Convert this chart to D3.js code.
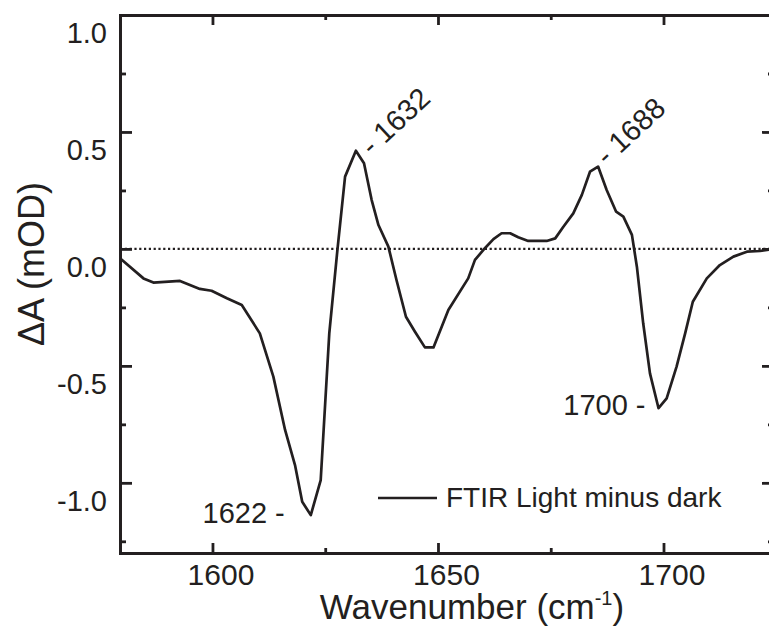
<!DOCTYPE html>
<html lang="en">

<head>
  <script src="https://cdn.jsdelivr.net/npm/d3@7/dist/d3.min.js"></script>

  <style>
    body {
      margin: 0;
      background: #fff;
      font-family: 'Liberation Sans', Arial, sans-serif;
    }

    #chart text {
      fill: #231f20;
    }

    .axis path,
    .axis line {
      stroke: #231f20;
      stroke-width: 2.8;
    }
  </style>
</head>

<body>
  <svg id="chart" width="769" height="626"></svg>

  <script>
    // traced spectrum
    var wavenumber = [1579.5, 1584.7, 1586.9, 1592.8, 1597.2, 1599.8, 1603.2, 1606.5, 1610.5, 1613.5,
      1616.1, 1618.3, 1619.9, 1621.8, 1624.0, 1625.9, 1627.7, 1629.4, 1631.8, 1633.6,
      1635.3, 1636.8, 1639.0, 1640.8, 1642.9, 1644.9, 1647.1, 1649.0, 1652.3, 1656.7,
      1658.2, 1660.4, 1662.3, 1664.1, 1666.0, 1667.8, 1670.0, 1674.1, 1676.0, 1677.8,
      1680.0, 1681.9, 1683.7, 1685.5, 1687.4, 1689.5, 1691.1, 1693.0, 1694.1, 1695.5,
      1697.0, 1698.9, 1700.7, 1702.9, 1704.8, 1706.5, 1709.6, 1712.5, 1715.5, 1718.5,
      1721.4, 1724.5];
    var deltaA = [-0.040, -0.126, -0.144, -0.137, -0.171, -0.179, -0.211, -0.240, -0.361, -0.546,
      -0.774, -0.924, -1.081, -1.138, -0.988, -0.361, -0.005, 0.309, 0.420, 0.366,
      0.209, 0.102, 0.010, -0.133, -0.290, -0.354, -0.421, -0.421, -0.261, -0.126,
      -0.047, 0.003, 0.042, 0.067, 0.067, 0.050, 0.034, 0.034, 0.045, 0.095,
      0.152, 0.231, 0.330, 0.352, 0.252, 0.159, 0.138, 0.060, -0.076, -0.318,
      -0.532, -0.681, -0.639, -0.503, -0.361, -0.226, -0.126, -0.069, -0.033, -0.012,
      -0.009, 0.000];

    var xMajor = [1600, 1650, 1700];
    var xMinor = [1625, 1675, 1725];
    var yMajor = [1.0, 0.5, 0.0, -0.5, -1.0];
    var yMinor = [0.75, 0.25, -0.25, -0.75, -1.25];

    // peak annotations (index into the spectrum)
    var peakText = ['1622 -', '- 1632', '- 1688', '1700 -'];
    var peakIndex = [13, 18, 43, 51];

    var legendText = 'FTIR Light minus dark';

    var data = wavenumber.map(function (w, i) { return { w: w, a: deltaA[i] }; });

    var box = { left: 120, right: 774, top: 15, bottom: 553 };

    var x = d3.scaleLinear().domain([1579.5, 1724.5]).range([box.left, box.right]);
    var y = d3.scaleLinear().domain([-1.3, 1.0]).range([box.bottom, box.top]);

    var svg = d3.select('#chart');

    // axes: major + minor on all four sides, ticks inward
    function drawAxis(axis, cls, tr) {
      return svg.append('g')
        .attr('class', 'axis ' + cls)
        .attr('transform', tr)
        .call(axis);
    }

    var xb = drawAxis(d3.axisBottom(x).tickValues(xMajor).tickSizeInner(-10).tickSizeOuter(0)
      .tickFormat(d3.format('d')), 'x', 'translate(0,' + box.bottom + ')');
    xb.selectAll('text')
      .attr('x', 8)
      .attr('y', 32)
      .attr('dy', 0)
      .style('font-size', '30px')
      .style('font-family', "'Liberation Sans', Arial, sans-serif");
    drawAxis(d3.axisBottom(x).tickValues(xMinor).tickSizeInner(-5).tickSizeOuter(0).tickFormat(''),
      'x minor', 'translate(0,' + box.bottom + ')');

    drawAxis(d3.axisTop(x).tickValues(xMajor).tickSizeInner(-10).tickSizeOuter(0).tickFormat(''),
      'x top', 'translate(0,' + box.top + ')');
    drawAxis(d3.axisTop(x).tickValues(xMinor).tickSizeInner(-5).tickSizeOuter(0).tickFormat(''),
      'x top minor', 'translate(0,' + box.top + ')');

    var yl = drawAxis(d3.axisLeft(y).tickValues(yMajor).tickSizeInner(-12).tickSizeOuter(0)
      .tickPadding(13).tickFormat(function (d) { return d.toFixed(1); }), 'y', 'translate(' + box.left + ',0)');
    yl.selectAll('text')
      .attr('y', 18)
      .style('font-size', '29px')
      .style('font-family', "'Liberation Sans', Arial, sans-serif");
    drawAxis(d3.axisLeft(y).tickValues(yMinor).tickSizeInner(-6).tickSizeOuter(0).tickFormat(''),
      'y minor', 'translate(' + box.left + ',0)');

    drawAxis(d3.axisRight(y).tickValues(yMajor).tickSizeInner(-12).tickSizeOuter(0).tickFormat(''),
      'y right', 'translate(' + box.right + ',0)');
    drawAxis(d3.axisRight(y).tickValues(yMinor).tickSizeInner(-6).tickSizeOuter(0).tickFormat(''),
      'y right minor', 'translate(' + box.right + ',0)');

    svg.selectAll('.axis path').attr('stroke-linecap', 'square');

    // zero line
    svg.append('line')
      .attr('x1', box.left).attr('x2', box.right)
      .attr('y1', y(0)).attr('y2', y(0))
      .attr('stroke', '#231f20')
      .attr('stroke-width', 2.2)
      .attr('stroke-dasharray', '2.2,2.6');

    // spectrum
    var line = d3.line()
      .x(function (d) { return x(d.w); })
      .y(function (d) { return y(d.a); });

    svg.append('path')
      .datum(data)
      .attr('d', line)
      .attr('fill', 'none')
      .attr('stroke', '#231f20')
      .attr('stroke-width', 2.7)
      .attr('stroke-linejoin', 'round');

    // peak labels
    var offs = [[-26, 8, 0, 'end'], [16, 6, -43, 'start'], [9, 0, -43, 'start'], [-13, 7, 0, 'end']];
    peakText.forEach(function (t, i) {
      var d = data[peakIndex[i]];
      var px = x(d.w) + offs[i][0], py = y(d.a) + offs[i][1];
      svg.append('text')
        .attr('transform', 'translate(' + px + ',' + py + ') rotate(' + offs[i][2] + ')')
        .attr('text-anchor', offs[i][3])
        .style('font-size', '29px')
        .text(t);
    });

    // legend
    svg.append('line')
      .attr('x1', 378).attr('x2', 437)
      .attr('y1', 498).attr('y2', 498)
      .attr('stroke', '#231f20')
      .attr('stroke-width', 2.7);
    svg.append('text')
      .attr('x', 446).attr('y', 507)
      .style('font-size', '28px')
      .text(legendText);

    // axis titles
    var xt = svg.append('text')
      .attr('x', 472).attr('y', 619)
      .attr('text-anchor', 'middle')
      .style('font-size', '35px')
      .text('Wavenumber (cm');
    xt.append('tspan')
      .attr('dy', -14)
      .style('font-size', '20px')
      .text('-1');
    xt.append('tspan')
      .attr('dy', 14)
      .text(')');

    svg.append('text')
      .attr('transform', 'translate(44,264) rotate(-90)')
      .attr('text-anchor', 'middle')
      .style('font-size', '36px')
      .text('ΔA (mOD)');
  </script>
</body>

</html>
